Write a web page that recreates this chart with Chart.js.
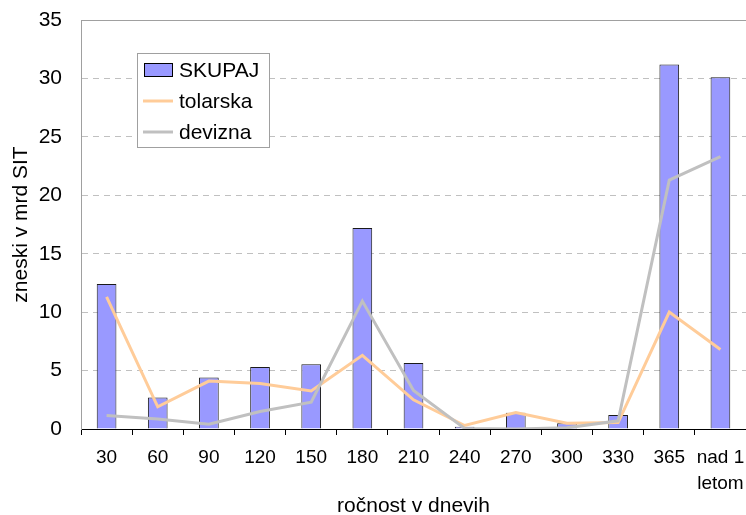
<!DOCTYPE html>
<html>
<head>
<meta charset="utf-8">
<script src="https://cdn.jsdelivr.net/npm/chart.js@4/dist/chart.umd.min.js"></script>
<style>
  html, body { margin: 0; padding: 0; background: #fff; }
  #wrap { width: 746px; height: 515px; position: relative; }
</style>
</head>
<body>
<div id="wrap"><canvas id="chart"></canvas></div>
<script>
// categories (days to maturity)
const categories = ['30', '60', '90', '120', '150', '180', '210', '240', '270', '300', '330', '365', ['nad 1', 'letom']];

// values in mrd SIT
const skupaj    = [12.4, 2.7, 4.4, 5.3, 5.55, 17.2, 5.65, 0.2, 1.4, 0.5, 1.2, 31.2, 30.1];
const tolarska  = [11.3, 1.9, 4.1, 3.9, 3.25, 6.3, 2.5, 0.3, 1.4, 0.5, 0.55, 10.0, 6.8];
const devizna   = [1.15, 0.85, 0.4, 1.5, 2.3, 10.95, 3.3, 0.05, 0.0, 0.1, 0.7, 21.3, 23.3];

const yTicks = [0, 5, 10, 15, 20, 25, 30, 35];

const legendItems = [
    { label: 'SKUPAJ', type: 'box', color: '#9999FF' },
    { label: 'tolarska', type: 'line', color: '#FFCC99' },
    { label: 'devizna', type: 'line', color: '#C0C0C0' }
];

// top border of plot area + legend box inside the plot
const framePlugin = {
    id: 'frame',
    afterDraw: function(chart) {
        const ctx = chart.ctx;
        const area = chart.chartArea;
        ctx.save();
        ctx.strokeStyle = '#a0a0a0';
        ctx.lineWidth = 1;
        ctx.beginPath();
        ctx.moveTo(area.left, Math.round(area.top) + 0.5);
        ctx.lineTo(area.right, Math.round(area.top) + 0.5);
        ctx.stroke();

        // legend
        ctx.fillStyle = '#ffffff';
        ctx.fillRect(137, 53, 133, 95);
        ctx.strokeStyle = '#a0a0a0';
        ctx.strokeRect(137.5, 53.5, 132, 94);

        ctx.font = '21px "Liberation Sans", Arial, sans-serif';
        ctx.textBaseline = 'middle';
        ctx.textAlign = 'left';
        const rows = [70, 101, 132];
        legendItems.forEach(function(item, i) {
            const y = rows[i];
            if (item.type === 'box') {
                ctx.fillStyle = item.color;
                ctx.fillRect(144, y - 7, 29, 14);
                ctx.strokeStyle = '#000';
                ctx.strokeRect(144.5, y - 6.5, 28, 13);
            } else {
                ctx.strokeStyle = item.color;
                ctx.lineWidth = 3;
                ctx.beginPath();
                ctx.moveTo(143, y);
                ctx.lineTo(173, y);
                ctx.stroke();
                ctx.lineWidth = 1;
            }
            ctx.fillStyle = '#000';
            ctx.fillText(item.label, 179, y + 1);
        });
        ctx.restore();
    }
};

const ctx = document.getElementById('chart').getContext('2d');
new Chart(ctx, {
    type: 'bar',
    data: {
        labels: categories,
        datasets: [
            {
                type: 'bar',
                label: 'SKUPAJ',
                data: skupaj,
                backgroundColor: '#9999FF',
                borderColor: '#1a1a1a',
                borderWidth: 1,
                barPercentage: 0.385,
                categoryPercentage: 1,
                order: 3
            },
            {
                type: 'line',
                label: 'tolarska',
                data: tolarska,
                borderColor: '#FFCC99',
                borderWidth: 3,
                pointRadius: 0,
                tension: 0,
                fill: false,
                order: 2
            },
            {
                type: 'line',
                label: 'devizna',
                data: devizna,
                borderColor: '#C0C0C0',
                borderWidth: 3,
                pointRadius: 0,
                tension: 0,
                fill: false,
                order: 1
            }
        ]
    },
    options: {
        responsive: true,
        maintainAspectRatio: false,
        animation: false,
        layout: { padding: { top: 20, right: 0, left: 0, bottom: 0 } },
        plugins: {
            legend: { display: false },
            tooltip: { enabled: false }
        },
        scales: {
            x: {
                offset: true,
                afterFit: function(scale) {
                    scale.height = 86;
                    scale.paddingLeft = 0;
                    scale.paddingRight = 0;
                },
                grid: {
                    offset: true,
                    drawOnChartArea: false,
                    drawTicks: true,
                    tickLength: 6,
                    color: '#000'
                },
                border: { display: true, color: '#000', width: 1 },
                ticks: {
                    color: '#000',
                    maxRotation: 0,
                    autoSkip: false,
                    padding: 10,
                    font: { family: '"Liberation Sans Narrow", "Arial Narrow", "Liberation Sans", sans-serif', size: 19, lineHeight: 1.35 }
                },
                title: {
                    display: true,
                    text: 'ročnost v dnevih',
                    color: '#000',
                    padding: { top: 0, bottom: 0 },
                    font: { family: '"Liberation Sans", Arial, sans-serif', size: 21, lineHeight: 0.8 }
                }
            },
            y: {
                min: 0,
                max: 35,
                afterFit: function(scale) {
                    scale.width = 81;
                    scale.paddingTop = 0;
                    scale.paddingBottom = 0;
                },
                afterBuildTicks: function(scale) {
                    scale.ticks = yTicks.map(function(v) { return { value: v }; });
                },
                grid: {
                    drawTicks: false,
                    color: '#c0c0c0',
                    lineWidth: 1
                },
                border: { display: true, color: '#a0a0a0', width: 1, dash: [6, 5] },
                ticks: {
                    color: '#000',
                    padding: 19,
                    font: { family: '"Liberation Sans", Arial, sans-serif', size: 21 }
                },
                title: {
                    display: true,
                    text: 'zneski v mrd SIT',
                    color: '#000',
                    padding: { top: 9, bottom: 0 },
                    font: { family: '"Liberation Sans", Arial, sans-serif', size: 21 }
                }
            }
        }
    },
    plugins: [framePlugin]
});
</script>
</body>
</html>
